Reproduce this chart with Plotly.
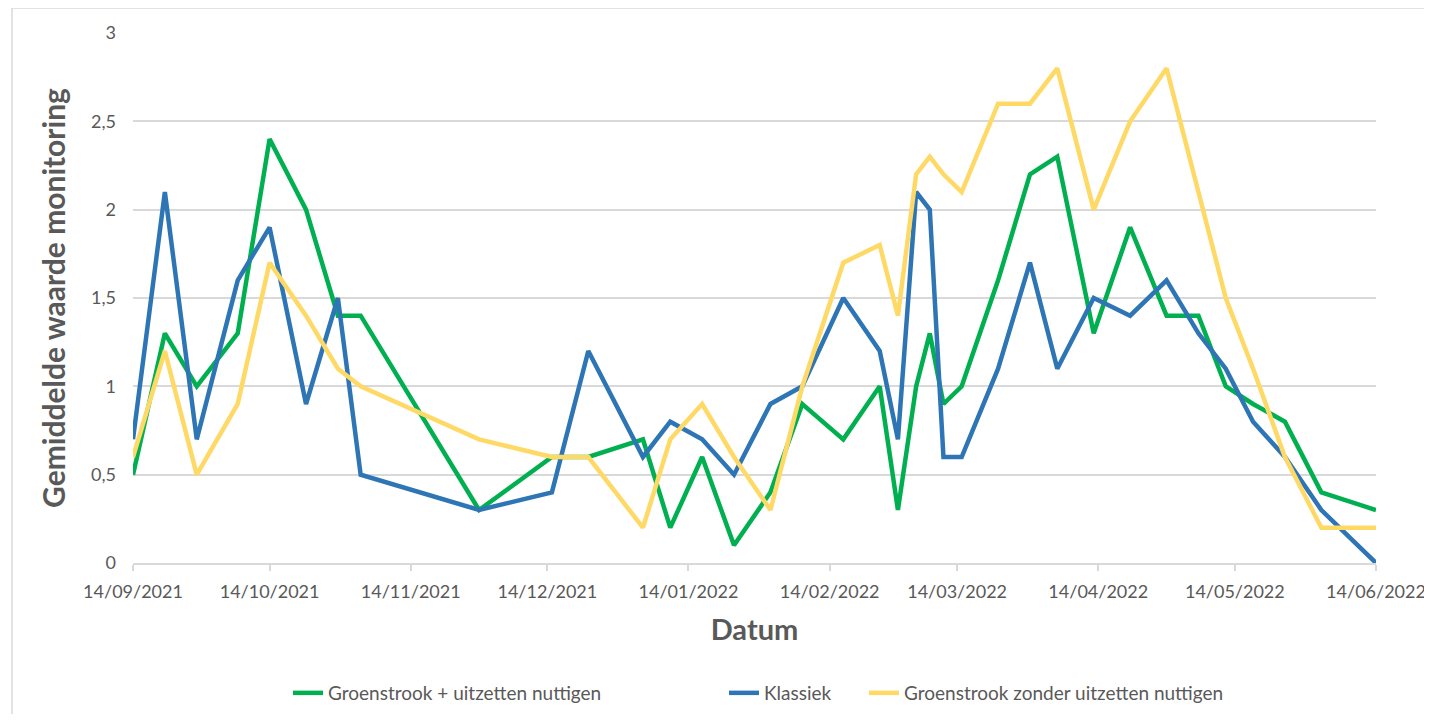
import plotly.graph_objects as go

# ---- data ----
dates = [
    "2021-09-14", "2021-09-21", "2021-09-28", "2021-10-07", "2021-10-14",
    "2021-10-22", "2021-10-29", "2021-11-03", "2021-11-29", "2021-12-15",
    "2021-12-23", "2022-01-04", "2022-01-10", "2022-01-17", "2022-01-24",
    "2022-02-01", "2022-02-08", "2022-02-17", "2022-02-25", "2022-03-01",
    "2022-03-05", "2022-03-08", "2022-03-11", "2022-03-15", "2022-03-23",
    "2022-03-30", "2022-04-05", "2022-04-13", "2022-04-21", "2022-04-29",
    "2022-05-06", "2022-05-12", "2022-05-18", "2022-05-25", "2022-06-02",
    "2022-06-14",
]

groen_uitzetten = [
    0.5, 1.3, 1.0, 1.3, 2.4, 2.0, 1.4, 1.4, 0.3, 0.6,
    0.6, 0.7, 0.2, 0.6, 0.1, 0.4, 0.9, 0.7, 1.0, 0.3,
    1.0, 1.3, 0.9, 1.0, 1.6, 2.2, 2.3, 1.3, 1.9, 1.4,
    1.4, 1.0, 0.9, 0.8, 0.4, 0.3,
]

klassiek = [
    0.7, 2.1, 0.7, 1.6, 1.9, 0.9, 1.5, 0.5, 0.3, 0.4,
    1.2, 0.6, 0.8, 0.7, 0.5, 0.9, 1.0, 1.5, 1.2, 0.7,
    2.1, 2.0, 0.6, 0.6, 1.1, 1.7, 1.1, 1.5, 1.4, 1.6,
    1.3, 1.1, 0.8, 0.6, 0.3, 0.0,
]

groen_zonder = [
    0.6, 1.2, 0.5, 0.9, 1.7, 1.4, 1.1, 1.0, 0.7, 0.6,
    0.6, 0.2, 0.7, 0.9, 0.6, 0.3, 1.0, 1.7, 1.8, 1.4,
    2.2, 2.3, 2.2, 2.1, 2.6, 2.6, 2.8, 2.0, 2.5, 2.8,
    2.1, 1.5, 1.1, 0.6, 0.2, 0.2,
]

series_names = [
    "Groenstrook + uitzetten nuttigen",
    "Klassiek",
    "Groenstrook zonder uitzetten nuttigen",
]
series_colors = ["#00B050", "#2E75B6", "#FFD966"]

x_tickvals = [
    "2021-09-14", "2021-10-14", "2021-11-14", "2021-12-14", "2022-01-14",
    "2022-02-14", "2022-03-14", "2022-04-14", "2022-05-14", "2022-06-14",
]
x_ticktext = [
    "14/09/2021", "14/10/2021", "14/11/2021", "14/12/2021", "14/01/2022",
    "14/02/2022", "14/03/2022", "14/04/2022", "14/05/2022", "14/06/2022",
]
y_tickvals = [0, 0.5, 1, 1.5, 2, 2.5, 3]
y_ticktext = ["0", "0,5", "1", "1,5", "2", "2,5", "3"]

x_title = "Datum"
y_title = "Gemiddelde waarde monitoring"

# ---- figure ----
OFF = 8  # page body margin
W, H = 1422, 706
PL, PR, PT, PB = 133, 1376, 33, 563  # plot area in page pixels
L = PL - OFF
R = W - (PR - OFF)
T = PT - OFF
B = H - (PB - OFF)
pw, ph = W - L - R, H - T - B

TEXT = "#595959"
GRID = "#D9D9D9"
FONT = "Lato"


def px_x(px):
    return (px - PL) / pw


def px_y(py):
    return (PB - py) / ph


fig = go.Figure()
legend_ids = ["legend", "legend2", "legend3"]
all_values = [groen_uitzetten, klassiek, groen_zonder]
for name, col, vals, lg in zip(series_names, series_colors, all_values, legend_ids):
    fig.add_trace(go.Scatter(
        x=dates, y=vals, name=name, mode="lines",
        line=dict(color=col, width=4.5),
        legend=lg,
    ))

legend_common = dict(
    orientation="h", yanchor="middle", y=px_y(693), xanchor="left",
    font=dict(family=FONT, size=19, color=TEXT),
    bgcolor="rgba(0,0,0,0)", borderwidth=0,
)
legend_left_px = [288, 724, 864]

fig.update_layout(
    width=W, height=H,
    margin=dict(l=L, r=R, t=T, b=B, autoexpand=False),
    paper_bgcolor="white", plot_bgcolor="white",
    font=dict(family=FONT, color=TEXT),
    showlegend=True,
    legend=dict(legend_common, x=px_x(legend_left_px[0])),
    legend2=dict(legend_common, x=px_x(legend_left_px[1])),
    legend3=dict(legend_common, x=px_x(legend_left_px[2])),
    xaxis=dict(
        type="date",
        range=["2021-09-14", "2022-06-14"],
        tickvals=x_tickvals, ticktext=x_ticktext,
        showgrid=False, zeroline=False,
        showline=True, linecolor=GRID, linewidth=1.5,
        ticks="outside", ticklen=6, tickcolor=GRID, tickwidth=1.5,
        tickfont=dict(family=FONT, size=18, color=TEXT),
        ticklabelstandoff=6,
        ticklabeloverflow="allow",
        title=dict(text=x_title, standoff=18,
                   font=dict(family=FONT, size=29, color=TEXT, weight="bold")),
        automargin=False,
    ),
    yaxis=dict(
        range=[0, 3],
        tickvals=y_tickvals, ticktext=y_ticktext,
        showgrid=True, gridcolor=GRID, gridwidth=1.5,
        zeroline=False, showline=False, ticks="",
        tickfont=dict(family=FONT, size=18, color=TEXT),
        ticklabelstandoff=16,
        title=dict(text=y_title, standoff=16,
                   font=dict(family=FONT, size=30, color=TEXT, weight="bold")),
        automargin=False,
    ),
    shapes=[dict(
        type="rect", xref="paper", yref="paper",
        x0=px_x(12), x1=px_x(1450), y0=px_y(740), y1=px_y(8),
        line=dict(color=GRID, width=1.5), fillcolor="rgba(0,0,0,0)", layer="below",
    )],
)

fig.write_html("out.html")
